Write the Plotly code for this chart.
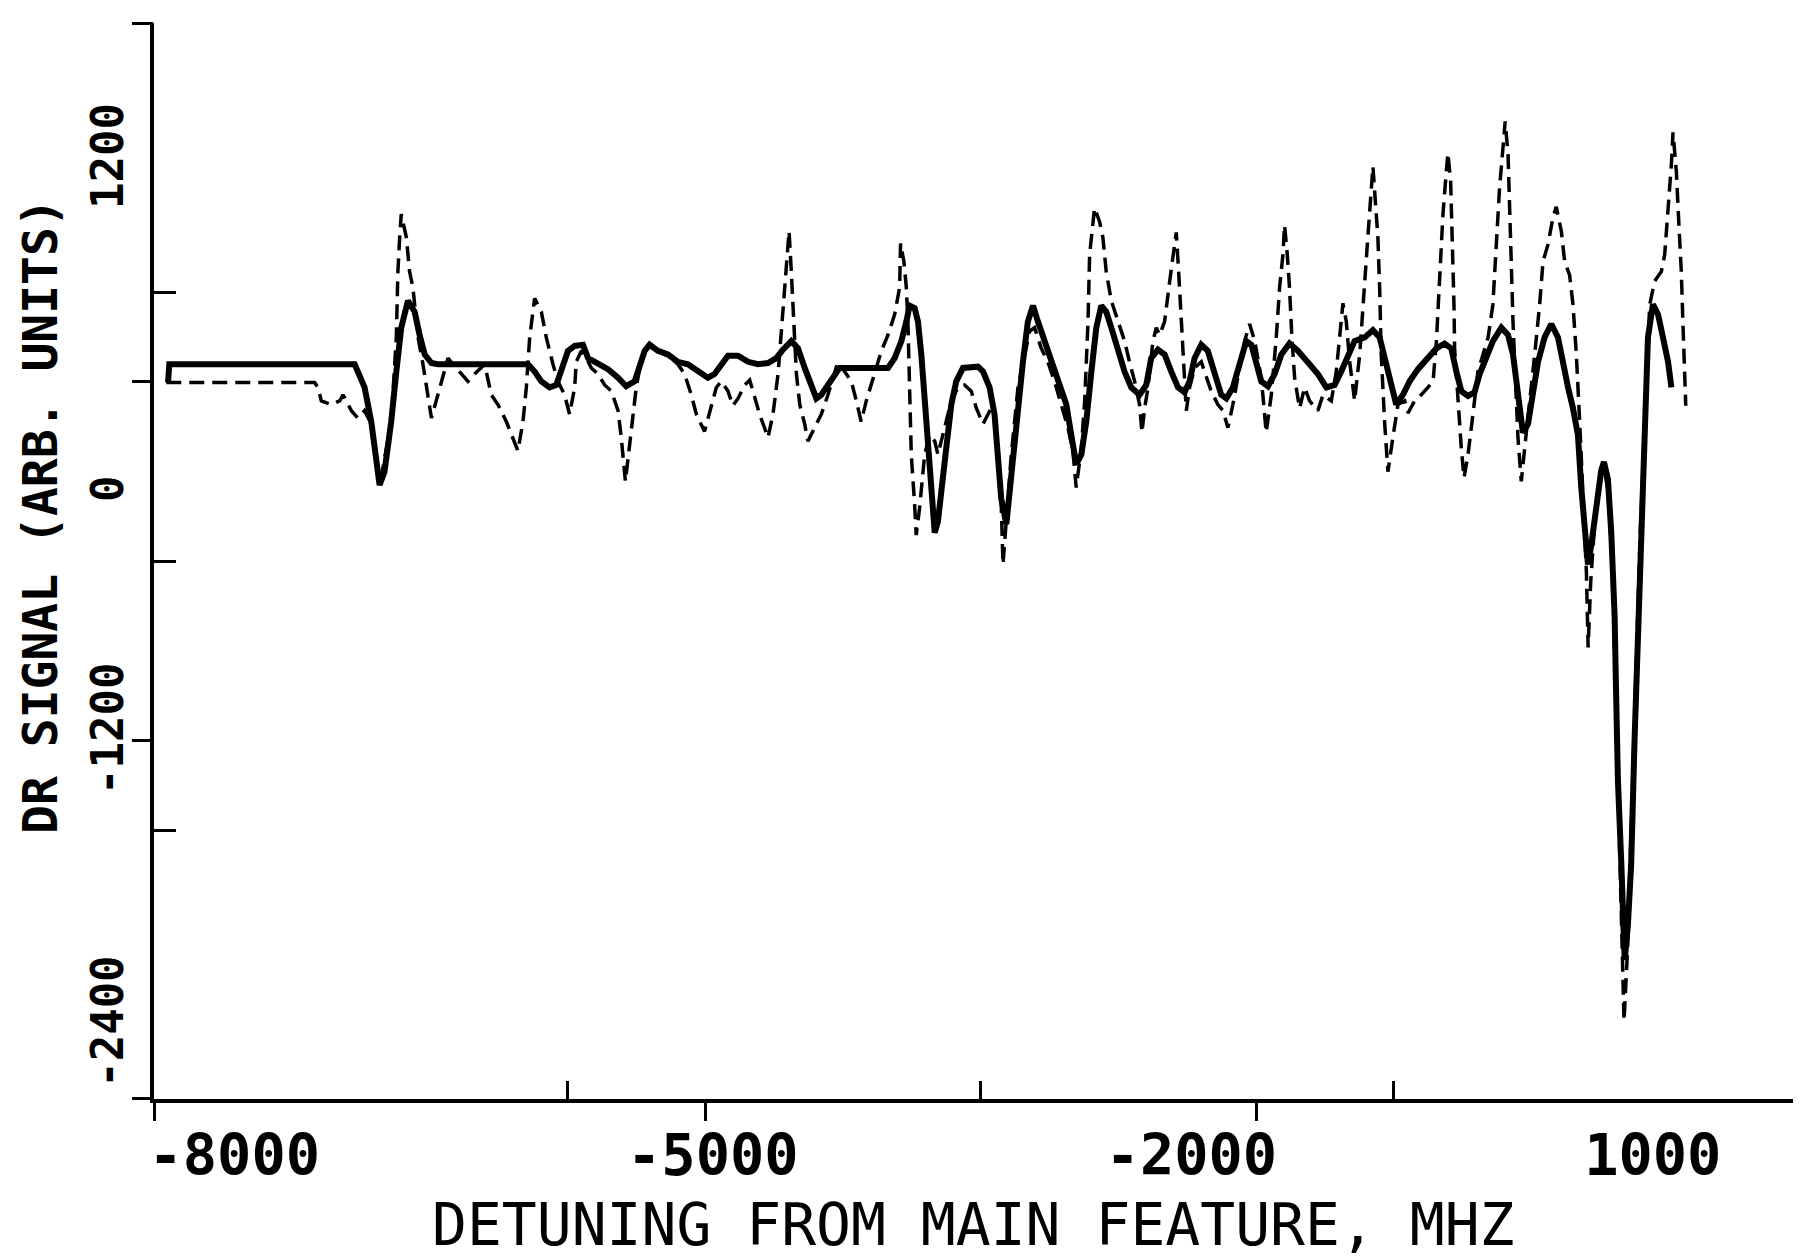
import plotly.graph_objects as go

# ---- data ----
SOLID_X = [
    -8415, -8407, -7245, -7183, -7141, -7109, -7089, -7058, -7016, -6984,
    -6953, -6911, -6869, -6838, -6806, -6764, -6723, -6159, -6117, -6075,
    -6023, -5981, -5949, -5908, -5866, -5814, -5782, -5720, -5657, -5594,
    -5543, -5490, -5458, -5427, -5396, -5344, -5281, -5219, -5156, -5093,
    -5031, -4989, -4947, -4905, -4842, -4779, -4717, -4654, -4602, -4561,
    -4508, -4466, -4424, -4383, -4351, -4320, -4278, -4237, -4205, -4174,
    -3902, -3860, -3818, -3787, -3766, -3735, -3714, -3693, -3672, -3651,
    -3630, -3609, -3589, -3568, -3537, -3505, -3474, -3432, -3390, -3338,
    -3306, -3265, -3234, -3213, -3192, -3160, -3129, -3087, -3056, -3025,
    -2993, -2962, -2920, -2868, -2826, -2784, -2753, -2722, -2690, -2659,
    -2627, -2596, -2565, -2534, -2502, -2460, -2419, -2377, -2325, -2283,
    -2252, -2210, -2168, -2126, -2084, -2043, -2011, -1980, -1938, -1897,
    -1855, -1813, -1781, -1740, -1698, -1656, -1624, -1593, -1562, -1520,
    -1478, -1436, -1385, -1332, -1269, -1207, -1154, -1102, -1061, -1019,
    -977, -914, -862, -820, -778, -747, -716, -674, -632, -580,
    -517, -464, -413, -371, -339, -308, -266, -225, -193, -151,
    -110, -57, -15, 16, 37, 58, 78, 110, 141, 173,
    214, 256, 298, 329, 361, 392, 423, 444, 465, 486,
    507, 538, 569, 586, 611, 632, 653, 663, 674, 695,
    705, 716, 736, 757, 778, 799, 820, 841, 862, 893,
    925, 956, 988, 1009,
]
SOLID_Y = [
    245, 320, 320, 225, 85, -75, -175, -120, 85, 290,
    470, 580, 535, 440, 360, 325, 320, 320, 290, 250,
    225, 235, 305, 375, 395, 400, 345, 320, 300, 265,
    230, 250, 305, 375, 400, 375, 360, 330, 320, 290,
    265, 280, 320, 355, 355, 330, 320, 325, 345, 380,
    415, 385, 305, 225, 180, 195, 235, 280, 305, 305,
    305, 345, 415, 495, 560, 550, 495, 360, 155, -25,
    -255, -370, -325, -185, -25, 155, 250, 305, 310, 310,
    290, 225, 115, -50, -230, -335, -120, 155, 330, 495,
    560, 495, 415, 320, 250, 155, 30, -90, -50, 85,
    290, 470, 560, 535, 470, 375, 290, 225, 195, 235,
    345, 380, 360, 290, 225, 205, 250, 345, 400, 375,
    280, 195, 180, 225, 320, 415, 400, 330, 250, 230,
    280, 360, 405, 375, 330, 280, 225, 235, 290, 360,
    415, 430, 460, 430, 320, 225, 155, 195, 250, 300,
    345, 385, 405, 385, 290, 210, 190, 205, 280, 345,
    415, 470, 440, 360, 250, 140, 40, 75, 195, 330,
    430, 485, 430, 320, 225, 140, 30, -185, -365, -500,
    -420, -250, -115, -80, -150, -370, -710, -1050, -1390, -1725,
    -1980, -2120, -1980, -1725, -1220, -795, -370, -30, 430, 565,
    525, 430, 330, 225,
]

DASHED_X = [
    -8426, -7496, -7475, -7454, -7392, -7339, -7318, -7297, -7266, -7225,
    -7183, -7141, -7099, -7078, -7016, -6984, -6974, -6963, -6953, -6921,
    -6901, -6880, -6848, -6817, -6785, -6764, -6734, -6702, -6660, -6629,
    -6577, -6535, -6493, -6451, -6430, -6389, -6347, -6294, -6253, -6222,
    -6190, -6169, -6148, -6117, -6075, -6044, -6002, -5971, -5929, -5898,
    -5866, -5856, -5824, -5793, -5762, -5720, -5678, -5636, -5594, -5574,
    -5548, -5532, -5501, -5480, -5458, -5427, -5386, -5344, -5302, -5260,
    -5219, -5177, -5135, -5103, -5052, -5010, -4978, -4947, -4905, -4874,
    -4842, -4800, -4769, -4748, -4707, -4654, -4623, -4591, -4571, -4550,
    -4529, -4522, -4508, -4497, -4487, -4476, -4455, -4424, -4404, -4362,
    -4320, -4278, -4237, -4216, -4174, -4132, -4100, -4070, -4038, -4007,
    -3975, -3943, -3902, -3860, -3829, -3823, -3802, -3787, -3776, -3766,
    -3756, -3735, -3725, -3704, -3672, -3641, -3609, -3589, -3547, -3505,
    -3463, -3422, -3380, -3348, -3306, -3275, -3244, -3213, -3192, -3181,
    -3129, -3087, -3056, -3014, -2983, -2941, -2900, -2858, -2816, -2774,
    -2743, -2722, -2690, -2669, -2648, -2638, -2607, -2576, -2555, -2534,
    -2502, -2460, -2419, -2388, -2356, -2325, -2310, -2293, -2272, -2241,
    -2220, -2199, -2168, -2136, -2105, -2095, -2080, -2068, -2053, -2036,
    -2032, -2011, -1980, -1938, -1907, -1876, -1834, -1802, -1771, -1740,
    -1698, -1666, -1635, -1603, -1573, -1552, -1531, -1499, -1468, -1447,
    -1426, -1416, -1399, -1385, -1370, -1353, -1322, -1290, -1259, -1207,
    -1175, -1123, -1092, -1071, -1050, -1029, -1008, -987, -977, -945,
    -925, -894, -862, -831, -820, -810, -789, -768, -737, -705,
    -663, -642, -601, -559, -517, -485, -464, -444, -423, -402,
    -392, -375, -364, -354, -350, -329, -308, -291, -266, -235,
    -204, -172, -140, -110, -89, -68, -47, -33, -15, -5,
    6, 16, 47, 68, 89, 120, 152, 183, 204, 235,
    266, 287, 319, 340, 371, 392, 413, 434, 455, 476,
    487, 503, 532, 561, 582, 611, 640, 669, 690, 712,
    734, 755, 784, 813, 852, 873, 904, 946, 967, 988,
    1009, 1019, 1040, 1055, 1071, 1081, 1092, 1099,
]
DASHED_Y = [
    245, 245, 225, 170, 155, 170, 195, 170, 130, 100,
    130, 75, -125, -140, 85, 430, 700, 840, 935, 840,
    700, 635, 430, 320, 195, 100, 170, 250, 345, 320,
    280, 250, 280, 305, 320, 195, 155, 85, 20, -35,
    85, 225, 430, 590, 535, 430, 320, 250, 195, 115,
    225, 330, 375, 345, 305, 280, 235, 210, 130, 20,
    -160, -75, 100, 225, 305, 375, 400, 375, 360, 345,
    320, 280, 195, 115, 45, 140, 225, 250, 210, 150,
    180, 235, 255, 210, 115, 20, 115, 280, 455, 635,
    795, 865, 700, 565, 430, 280, 155, 75, 5, 60,
    115, 195, 280, 330, 290, 250, 170, 85, 170, 235,
    305, 375, 440, 525, 635, 815, 740, 635, 470, 225,
    -50, -255, -380, -270, -50, 30, 5, -50, 60, 170,
    225, 235, 210, 140, 75, 115, 155, -50, -255, -500,
    -50, 225, 330, 455, 470, 385, 330, 250, 155, 60,
    -35, -185, -25, 170, 495, 770, 960, 905, 840, 700,
    580, 495, 415, 330, 250, 155, 40, 140, 225, 415,
    470, 440, 495, 660, 795, 860, 700, 565, 385, 225,
    130, 225, 305, 330, 265, 210, 155, 130, 60, 155,
    305, 415, 485, 415, 305, 195, 40, 195, 430, 635,
    770, 890, 770, 635, 430, 265, 140, 225, 170, 130,
    195, 170, 290, 430, 570, 495, 330, 225, 170, 360,
    565, 840, 1130, 840, 635, 360, 85, -120, 20, 155,
    170, 120, 170, 195, 225, 250, 415, 700, 935, 1110,
    1185, 1070, 840, 565, 385, 155, -25, -145, -50, 115,
    290, 360, 430, 565, 795, 1045, 1205, 1315, 1180, 975,
    740, 495, 20, -160, -25, 155, 360, 565, 740, 810,
    920, 965, 865, 740, 685, 565, 360, 85, -255, -530,
    -840, -575, -290, -125, -90, -195, -525, -1280, -1890, -2370,
    -2080, -1610, -995, -385, 225, 565, 660, 700, 770, 935,
    1140, 1270, 1110, 905, 700, 495, 290, 150,
]

X_TICK_VALUES = [-8000, -5000, -2000, 1000]
X_TICK_LABELS = ["-8000", "-5000", "-2000", "1000\u00a0"]
Y_TICK_VALUES = [1200, 0, -1200, -2400]
Y_TICK_LABELS = ["1200\u00a0", "0\u00a0\u00a0\u00a0\u00a0", "-1200", "-2400"]
X_TITLE = "DETUNING FROM MAIN FEATURE, MHZ"
Y_TITLE = "DR SIGNAL (ARB. UNITS)"

X_RANGE = [-8503, 1859]
Y_RANGE = [-2690, 1718]


def divisions(rng, n, keep_ends):
    lo, hi = rng
    eps = (hi - lo) * 2e-4
    vals = [lo + (hi - lo) * k / n for k in range(n + 1)]
    if keep_ends:
        vals[0] += eps
        vals[-1] -= eps
        return vals
    return vals[1:-1]


X_INNER_TICKS = divisions(X_RANGE, 4, False)
X_OUTER_TICKS = divisions(X_RANGE, 3, True)
Y_INNER_TICKS = divisions(Y_RANGE, 4, False)
Y_OUTER_TICKS = divisions(Y_RANGE, 3, True)

MONO = "DejaVu Sans Mono"

fig = go.Figure()
fig.add_trace(go.Scatter(
    x=SOLID_X, y=SOLID_Y, mode="lines",
    line=dict(color="black", width=6),
    showlegend=False, hoverinfo="skip",
))
fig.add_trace(go.Scatter(
    x=DASHED_X, y=DASHED_Y, mode="lines",
    line=dict(color="black", width=3.5, dash="15px,8px"),
    xaxis="x2", yaxis="y2",
    showlegend=False, hoverinfo="skip",
))

fig.update_layout(
    width=1801, height=1257,
    margin=dict(l=146, r=2, t=15, b=166, autoexpand=False),
    paper_bgcolor="white", plot_bgcolor="white",
    showlegend=False,
    xaxis=dict(
        range=X_RANGE, tickmode="array", automargin=False,
        tickvals=X_TICK_VALUES, ticktext=X_TICK_LABELS,
        ticks="outside", ticklen=0, ticklabelstandoff=4,
        tickfont=dict(family=MONO, size=57, color="black", weight="bold"),
        showline=True, linewidth=3.5, linecolor="black",
        showgrid=False, zeroline=False,
        minor=dict(tickmode="array", tickvals=X_INNER_TICKS, ticks="inside",
                   ticklen=18, tickwidth=3, tickcolor="black", showgrid=False),
    ),
    xaxis2=dict(
        range=X_RANGE, overlaying="x", anchor="y", side="bottom", automargin=False,
        tickmode="array", tickvals=X_OUTER_TICKS,
        ticks="outside", ticklen=21, tickwidth=3, tickcolor="black",
        showticklabels=False, showline=False, showgrid=False, zeroline=False,
    ),
    yaxis=dict(
        range=Y_RANGE, tickmode="array", automargin=False,
        tickvals=Y_TICK_VALUES, ticktext=Y_TICK_LABELS, tickangle=-90,
        ticks="outside", ticklen=0, ticklabelstandoff=10,
        tickfont=dict(family=MONO, size=44, color="black", weight="bold"),
        showline=True, linewidth=3.5, linecolor="black",
        showgrid=False, zeroline=False,
        minor=dict(tickmode="array", tickvals=Y_INNER_TICKS, ticks="inside",
                   ticklen=22, tickwidth=3, tickcolor="black", showgrid=False),
    ),
    yaxis2=dict(
        range=Y_RANGE, overlaying="y", anchor="x", side="left", automargin=False,
        tickmode="array", tickvals=Y_OUTER_TICKS,
        ticks="outside", ticklen=21, tickwidth=3, tickcolor="black",
        showticklabels=False, showline=False, showgrid=False, zeroline=False,
    ),
    annotations=[
        dict(text=X_TITLE, xref="paper", yref="paper", x=0.4955, y=-0.1506,
             xanchor="center", yanchor="bottom", showarrow=False,
             font=dict(family=MONO, size=58, color="black")),
        dict(text=Y_TITLE, xref="paper", yref="paper", x=-0.069, y=0.5418,
             xanchor="center", yanchor="middle", showarrow=False, textangle=-90,
             font=dict(family=MONO, size=48, color="black", weight="bold")),
    ],
)

fig.write_html("out.html", config={"displayModeBar": False})
